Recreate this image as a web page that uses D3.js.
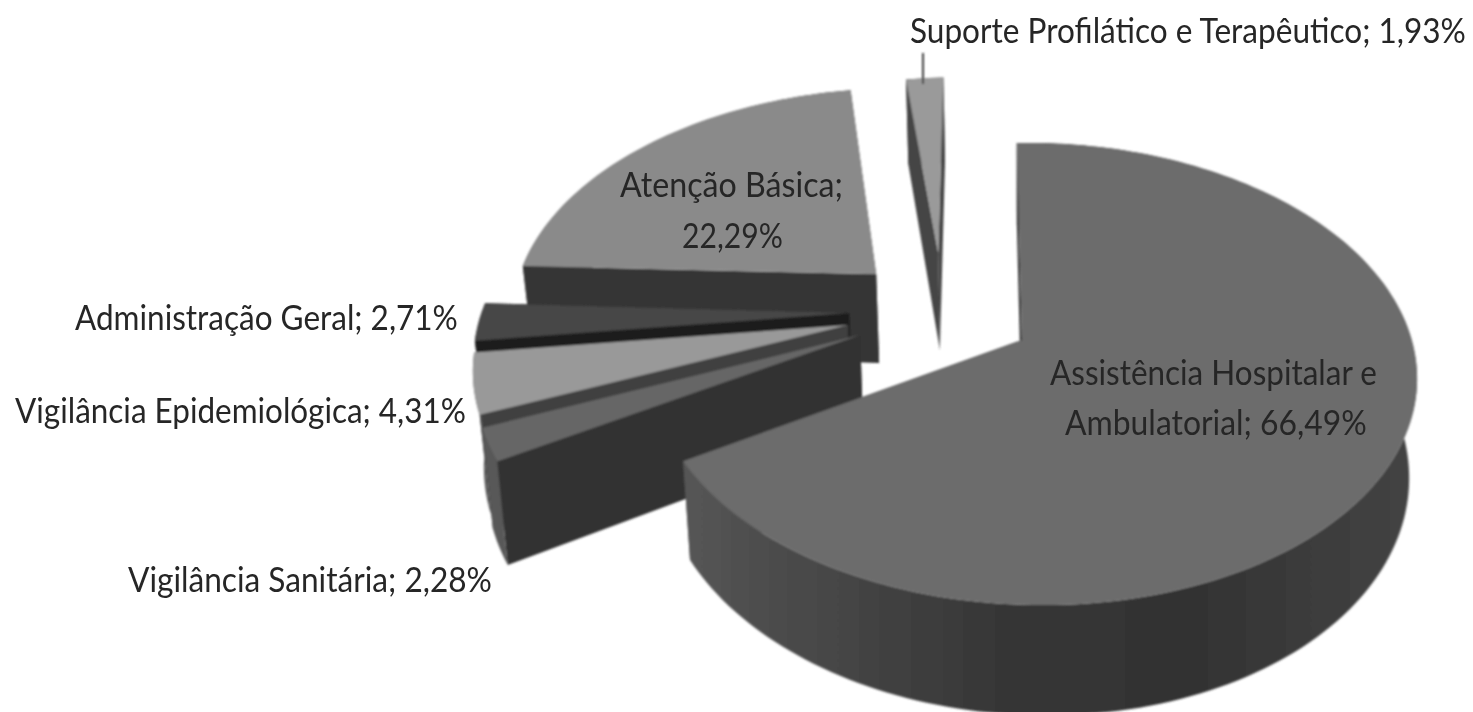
<!DOCTYPE html>
<html><head><meta charset="utf-8">
<script src="https://cdnjs.cloudflare.com/ajax/libs/d3/7.8.5/d3.min.js"></script>
<style>html,body{margin:0;background:#fff;overflow:hidden}svg{display:block}</style>
</head><body><svg id="c" width="1473" height="712"></svg>
<script>
const categories = ["Assistência Hospitalar e Ambulatorial","Vigilância Sanitária","Vigilância Epidemiológica","Administração Geral","Atenção Básica","Suporte Profilático e Terapêutico"];
const values = [66.49,2.28,4.31,2.71,22.29,1.93];
const valueLabels = ["66,49%","2,28%","4,31%","2,71%","22,29%","1,93%"];
const topFill = ["#6c6c6c","#666666","#999999","#474747","#8a8a8a","#9a9a9a"];
const wallFill = ["url(#mainWall)","#333333","#414141","#1f1f1f","#353535","#444444"];
const outerFill = ["url(#mainWall)","#585858","#585858","#1f1f1f","#353535","#444444"];
// per-slice explosion in pie-plane units, radius factor, depth factor
const explode = [[0,0,1,1],[-.435,-.022,1.06,1.06],[-.471,-.068,1.04,1.04],[-.47,-.123,1.05,1],[-.403,-.308,1.04,1],[-.23,-.41,1,1.1]];
const drawOrder = [5,4,3,2,1,0];
// label layout: text, x start, x end, baseline
const labelLayout = [
 [["Assistência Hospitalar e",1050,1377,385],["Ambulatorial; 66,49%",1065,1367,435]],
 [["Vigilância Sanitária; 2,28%",128,492,592]],
 [["Vigilância Epidemiológica; 4,31%",15,466,423]],
 [["Administração Geral; 2,71%",75,458,330]],
 [["Atenção Básica;",620,843,197],["22,29%",682,783,248]],
 [["Suporte Profilático e Terapêutico; 1,93%",910,1466,43]]
];

const O={x:1022,y:340},A=378,B=226,K=.147,M=.03,SH=6,D=94,BS=.98;
const sxS=d3.scaleLinear().domain([0,1]).range([O.x,O.x+A]);
const syS=d3.scaleLinear().domain([0,1]).range([O.y,O.y+B]);
function proj(X,Y,low){
  const w=1-K*Y-M*X;
  let sx=sxS(X/w+SH/A*Y/w), sy=syS(Y/w);
  if(low){sx=O.x+(sx-O.x)*BS; sy+=low*D/w;}
  return [sx,sy];
}
const svg=d3.select("#c");
const defs=svg.append("defs");
const g=defs.append("linearGradient").attr("id","mainWall").attr("gradientUnits","userSpaceOnUse")
 .attr("x1",680).attr("x2",1420).attr("y1",0).attr("y2",0);
[[0,"#565656"],[.18,"#484848"],[.45,"#353535"],[.7,"#333333"],[1,"#444444"]].forEach(s=>g.append("stop").attr("offset",s[0]).attr("stop-color",s[1]));
defs.append("filter").attr("id","soft").append("feGaussianBlur").attr("stdDeviation",.9);
defs.append("filter").attr("id","softT").append("feGaussianBlur").attr("stdDeviation",.5);

const arcs=d3.pie().sort(null).startAngle(0).endAngle(2*Math.PI)(values);
const line=d3.line();
const chart=svg.append("g").attr("filter","url(#soft)");
drawOrder.forEach(i=>{
  const a=arcs[i],[ex,ey,r,dp]=explode[i];
  const n=Math.max(4,Math.ceil((a.endAngle-a.startAngle)*40));
  const angs=d3.range(n+1).map(j=>a.startAngle+(a.endAngle-a.startAngle)*j/n);
  const P=(t,low)=>proj(ex+r*Math.sin(t),ey-r*Math.cos(t),low);
  const apexT=proj(ex,ey,0),apexB=proj(ex,ey,dp);
  const topArc=angs.map(t=>P(t,0)),lowArc=angs.map(t=>P(t,dp));
  const sg=chart.append("g").attr("class","slice").attr("data-name",categories[i]);
  [[topArc[0],lowArc[0]],[topArc[n],lowArc[n]]].forEach(e=>{
    sg.append("path").attr("d",line([apexT,e[0],e[1],apexB])+"Z").attr("fill",wallFill[i]);
  });
  sg.append("path").attr("d",line(topArc.concat(lowArc.slice().reverse()))+"Z").attr("fill",outerFill[i]);
  sg.append("path").attr("d",line([apexT].concat(topArc))+"Z").attr("fill",topFill[i]);
});
chart.append("line").attr("x1",923).attr("x2",923).attr("y1",53).attr("y2",84).attr("stroke","#3c3c3c").attr("stroke-width",2);

const tg=svg.append("g").attr("filter","url(#softT)").attr("font-family","Lato,'Open Sans',sans-serif").attr("font-size",35).attr("fill","#262626");
labelLayout.flat().forEach(l=>{
  const t=tg.append("text").text(l[0]);
  const nat=t.node().getComputedTextLength();
  t.attr("transform",`translate(${l[1]},${l[3]}) scale(${(l[2]-l[1])/nat},1)`);
});
</script></body></html>
